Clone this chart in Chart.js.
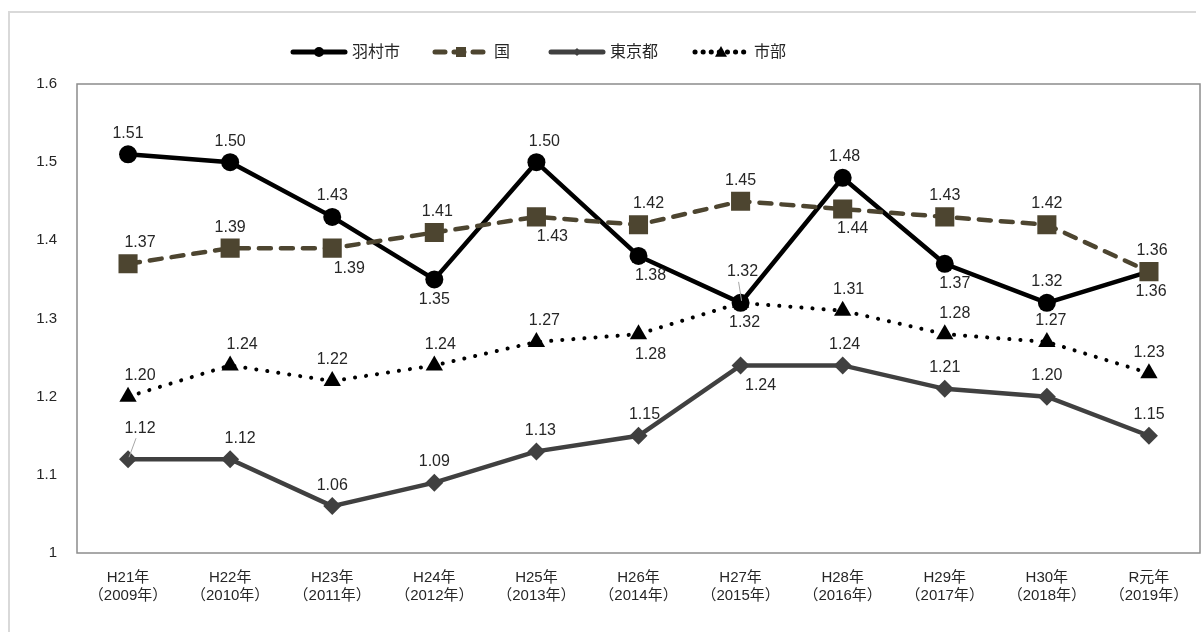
<!DOCTYPE html>
<html>
<head>
<meta charset="utf-8">
<script src="https://cdn.jsdelivr.net/npm/chart.js@4/dist/chart.umd.min.js"></script>
<style>
  html, body { margin: 0; padding: 0; background: #fff; overflow: hidden; }
  canvas { display: block; }
</style>
</head>
<body>
<canvas id="lineChart" width="1203" height="632"></canvas>
<script>
const FONT = '"Liberation Sans", "Noto Sans CJK JP", sans-serif';

const categories = [
  ['H21年', '（2009年）'], ['H22年', '（2010年）'], ['H23年', '（2011年）'],
  ['H24年', '（2012年）'], ['H25年', '（2013年）'], ['H26年', '（2014年）'],
  ['H27年', '（2015年）'], ['H28年', '（2016年）'], ['H29年', '（2017年）'],
  ['H30年', '（2018年）'], ['R元年', '（2019年）']
];
const yTicks = [1, 1.1, 1.2, 1.3, 1.4, 1.5, 1.6];

const hamura = [1.51, 1.50, 1.43, 1.35, 1.50, 1.38, 1.32, 1.48, 1.37, 1.32, 1.36];
const kuni   = [1.37, 1.39, 1.39, 1.41, 1.43, 1.42, 1.45, 1.44, 1.43, 1.42, 1.36];
const tokyo  = [1.12, 1.12, 1.06, 1.09, 1.13, 1.15, 1.24, 1.24, 1.21, 1.20, 1.15];
const shibu  = [1.20, 1.24, 1.22, 1.24, 1.27, 1.28, 1.32, 1.31, 1.28, 1.27, 1.23];

// label placement: t = above, b = below, T = further above (leader)
const LABEL_SIDE = [
  ['t','t','t','b','t','b','T','t','b','t','b'],
  ['t','t','b','t','b','t','t','b','t','t','t'],
  ['T','t','t','t','t','t','b','t','t','t','t'],
  ['t','t','t','t','t','b','b','t','t','t','t']
];
const LABEL_DX = [
  [0,0,0,0,8,12,2,2,10,0,2],
  [12,0,17,3,16,10,0,10,0,0,3],
  [12,10,0,0,4,6,20,2,0,0,0],
  [12,12,0,6,8,12,4,6,10,4,0]
];

const COLORS = { hamura: '#000000', kuni: '#4d4530', tokyo: '#404040', shibu: '#000000' };

const legendItems = [
  { label: '羽村市', color: COLORS.hamura, dash: [], shape: 'circle', x: 290 },
  { label: '国', color: COLORS.kuni, dash: [10, 9], shape: 'square', x: 432 },
  { label: '東京都', color: COLORS.tokyo, dash: [], shape: 'diamond', x: 548 },
  { label: '市部', color: COLORS.shibu, dash: [0.1, 8], shape: 'triangle', x: 692 }
];

function drawShape(ctx, shape, x, y, s) {
  ctx.beginPath();
  if (shape === 'circle') ctx.arc(x, y, s, 0, Math.PI * 2);
  else if (shape === 'square') ctx.rect(x - s, y - s, 2 * s, 2 * s);
  else if (shape === 'diamond') { ctx.moveTo(x - s, y); ctx.lineTo(x, y - s); ctx.lineTo(x + s, y); ctx.lineTo(x, y + s); ctx.closePath(); }
  else { ctx.moveTo(x, y - s); ctx.lineTo(x + s, y + s * 0.8); ctx.lineTo(x - s, y + s * 0.8); ctx.closePath(); }
  ctx.fill();
}

const framePlugin = {
  id: 'frame',
  beforeDraw(chart) {
    const ctx = chart.ctx;
    ctx.save();
    ctx.strokeStyle = '#d9d9d9';
    ctx.lineWidth = 2;
    ctx.beginPath();
    ctx.moveTo(9, 650); ctx.lineTo(9, 12); ctx.lineTo(1196, 12);
    ctx.stroke();
    ctx.restore();
  },
  afterDraw(chart) {
    const ctx = chart.ctx;
    const a = chart.chartArea;
    ctx.save();
    ctx.strokeStyle = '#8c8c8c';
    ctx.lineWidth = 1.5;
    ctx.strokeRect(a.left, a.top, a.right - a.left, a.bottom - a.top);

    // legend
    ctx.font = '16px ' + FONT;
    ctx.textBaseline = 'middle';
    const sampleW = 58, ly = 52;
    legendItems.forEach(it => {
      const x = it.x;
      ctx.strokeStyle = it.color;
      ctx.fillStyle = it.color;
      ctx.lineWidth = 5;
      ctx.lineCap = 'round';
      ctx.setLineDash(it.dash);
      ctx.beginPath();
      ctx.moveTo(x + 3, ly); ctx.lineTo(x + sampleW - 3, ly);
      ctx.stroke();
      ctx.setLineDash([]);
      const sz = { circle: 5, square: 5, diamond: 4, triangle: 6 }[it.shape];
      drawShape(ctx, it.shape, x + sampleW / 2, ly, sz);
      ctx.fillStyle = '#262626';
      ctx.textAlign = 'left';
      ctx.fillText(it.label, x + sampleW + 4, ly + 1);
    });
    ctx.restore();
  }
};

const labelPlugin = {
  id: 'valueLabels',
  afterDatasetsDraw(chart) {
    const ctx = chart.ctx;
    ctx.save();
    ctx.font = '16px ' + FONT;
    ctx.fillStyle = '#262626';
    ctx.textAlign = 'center';
    ctx.textBaseline = 'middle';
    chart.data.datasets.forEach((ds, di) => {
      const meta = chart.getDatasetMeta(di);
      meta.data.forEach((pt, i) => {
        const side = LABEL_SIDE[di][i];
        const dy = side === 't' ? -21 : side === 'T' ? -31 : 20;
        const tx = pt.x + LABEL_DX[di][i];
        const ty = pt.y + dy;
        if (side === 'T') {
          ctx.strokeStyle = '#a6a6a6';
          ctx.lineWidth = 1;
          ctx.beginPath();
          ctx.moveTo(pt.x + 1, pt.y - 2); ctx.lineTo(tx - 4, ty + 10);
          ctx.stroke();
        }
        ctx.fillText(ds.data[i].toFixed(2), tx, ty);
      });
    });
    ctx.restore();
  }
};

const ctx = document.getElementById('lineChart').getContext('2d');
new Chart(ctx, {
  type: 'line',
  data: {
    labels: categories,
    datasets: [
      {
        label: '羽村市', data: hamura, order: 4,
        borderColor: COLORS.hamura, backgroundColor: COLORS.hamura,
        borderWidth: 4.5, pointStyle: 'circle', pointRadius: 9,
        pointBorderWidth: 0, tension: 0
      },
      {
        label: '国', data: kuni, order: 3,
        borderColor: COLORS.kuni, backgroundColor: COLORS.kuni,
        borderWidth: 4.5, borderDash: [12, 10], borderCapStyle: 'round',
        pointStyle: 'rect', pointRadius: 13.5, pointBorderWidth: 0, tension: 0
      },
      {
        label: '東京都', data: tokyo, order: 2,
        borderColor: COLORS.tokyo, backgroundColor: COLORS.tokyo,
        borderWidth: 4.5, pointStyle: 'rectRot', pointRadius: 9,
        pointBorderWidth: 0, tension: 0
      },
      {
        label: '市部', data: shibu, order: 1,
        borderColor: COLORS.shibu, backgroundColor: COLORS.shibu,
        borderWidth: 4, borderDash: [0.1, 11], borderCapStyle: 'round',
        pointStyle: 'triangle', pointRadius: 10, pointBorderWidth: 0, tension: 0
      }
    ]
  },
  options: {
    responsive: false,
    animation: false,
    devicePixelRatio: 1,
    layout: { autoPadding: false, padding: { left: 0, right: 3, top: 84, bottom: 0 } },
    plugins: {
      legend: { display: false },
      tooltip: { enabled: false }
    },
    scales: {
      x: {
        offset: true,
        grid: { display: false },
        border: { display: false },
        afterFit: s => { s.height = 79; s.paddingLeft = 0; s.paddingRight = 0; },
        ticks: {
          color: '#262626',
          font: { size: 15, family: FONT },
          padding: 8,
          maxRotation: 0,
          autoSkip: false
        }
      },
      y: {
        min: 1,
        max: 1.6,
        grid: { display: false },
        border: { display: false },
        afterFit: s => { s.width = 77; s.paddingTop = 0; s.paddingBottom = 0; },
        afterBuildTicks: s => { s.ticks = yTicks.map(v => ({ value: v })); },
        ticks: {
          color: '#262626',
          font: { size: 15, family: FONT },
          padding: 12,
          callback: v => String(Math.round(v * 10) / 10)
        }
      }
    }
  },
  plugins: [framePlugin, labelPlugin]
});
</script>
</body>
</html>
